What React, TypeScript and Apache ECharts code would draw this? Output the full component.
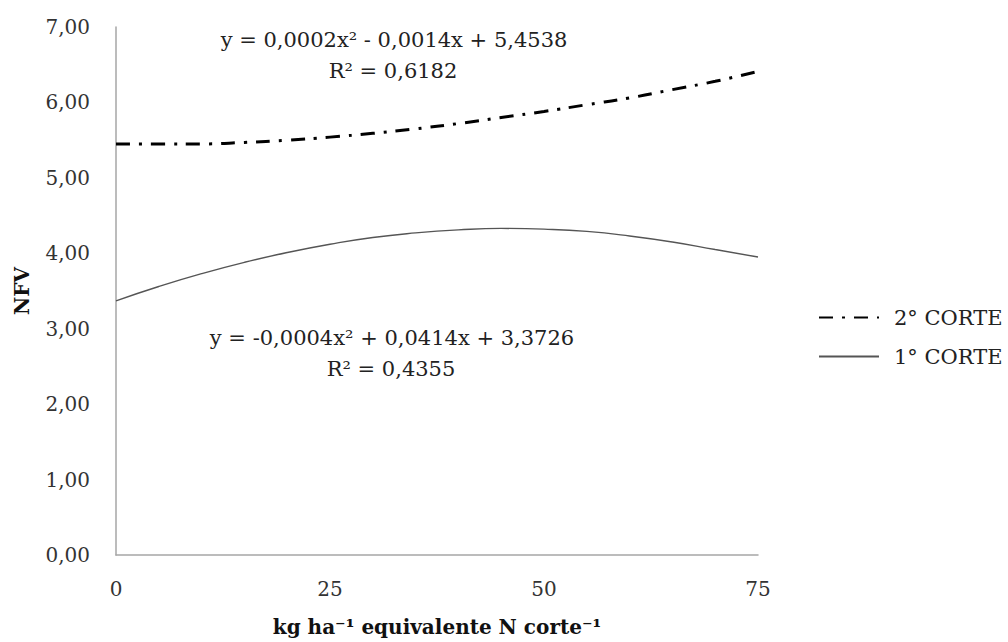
import React, { useEffect, useRef } from "react";
import * as echarts from "echarts";

const doses = [0, 5, 10, 15, 20, 25, 30, 35, 40, 45, 50, 55, 60, 65, 70, 75];
const corte2 = [5.45, 5.45, 5.45, 5.47, 5.5, 5.54, 5.59, 5.65, 5.72, 5.8, 5.88, 5.97, 6.06, 6.17, 6.28, 6.41];
const corte1 = [3.37, 3.56, 3.73, 3.88, 4.01, 4.12, 4.21, 4.27, 4.31, 4.33, 4.32, 4.29, 4.23, 4.15, 4.05, 3.95];
const seriesNames = ["2° CORTE", "1° CORTE"];
const eq2 = ["y = 0,0002x² - 0,0014x + 5,4538", "R² = 0,6182"];
const eq1 = ["y = -0,0004x² + 0,0414x + 3,3726", "R² = 0,4355"];
const xTitle = "kg ha⁻¹ equivalente N corte⁻¹";
const yTitle = "NFV";

const FONT = "DejaVu Serif";

export default function App() {
  const ref = useRef<HTMLDivElement>(null);
  useEffect(() => {
    if (!ref.current) return;
    const chart = echarts.init(ref.current, null, { renderer: "svg" });
    const textStyle = { fontFamily: FONT, fontSize: 21, fill: "#222" };
    chart.setOption({
      animation: false,
      backgroundColor: "#fff",
      textStyle: { fontFamily: FONT },
      grid: { left: 116, right: 250, top: 27, bottom: 84 },
      legend: {
        orient: "vertical",
        left: 813,
        top: 302,
        itemWidth: 60,
        itemHeight: 14,
        itemGap: 18,
        itemStyle: { opacity: 0 },
        textStyle: { fontFamily: FONT, fontSize: 21, color: "#222", padding: [0, 0, 0, 10] },
        data: seriesNames,
      },
      xAxis: {
        type: "value",
        min: 0,
        max: 75,
        interval: 25,
        name: xTitle,
        nameLocation: "middle",
        nameGap: 62,
        nameTextStyle: { fontFamily: FONT, fontSize: 20, fontWeight: "bold", color: "#111" },
        axisLine: { show: true, lineStyle: { color: "#a6a6a6", width: 1.5 } },
        axisTick: { show: false },
        splitLine: { show: false },
        axisLabel: { fontFamily: FONT, fontSize: 20, color: "#333", margin: 24 },
      },
      yAxis: {
        type: "value",
        min: 0,
        max: 7,
        interval: 1,
        name: yTitle,
        nameLocation: "middle",
        nameGap: 84,
        nameTextStyle: { fontFamily: FONT, fontSize: 20, fontWeight: "bold", color: "#111" },
        axisLine: { show: true, lineStyle: { color: "#a6a6a6", width: 1.5 } },
        axisTick: { show: false },
        splitLine: { show: false },
        axisLabel: {
          fontFamily: FONT,
          fontSize: 20,
          color: "#333",
          margin: 26,
          formatter: (v: number) => v.toFixed(2).replace(".", ","),
        },
      },
      series: [
        {
          name: seriesNames[0],
          type: "line",
          smooth: true,
          symbol: "none",
          data: doses.map((d, i) => [d, corte2[i]]),
          lineStyle: { color: "#000", width: 3, type: [14, 9, 3, 9] },
          itemStyle: { color: "#000" },
        },
        {
          name: seriesNames[1],
          type: "line",
          smooth: true,
          symbol: "none",
          data: doses.map((d, i) => [d, corte1[i]]),
          lineStyle: { color: "#555", width: 1.4, type: "solid" },
          itemStyle: { color: "#555" },
        },
      ],
      graphic: [
        { type: "text", x: 394, y: 40, style: { ...textStyle, text: eq2[0], align: "center", verticalAlign: "middle" } },
        { type: "text", x: 393, y: 71, style: { ...textStyle, text: eq2[1], align: "center", verticalAlign: "middle" } },
        { type: "text", x: 392, y: 338, style: { ...textStyle, text: eq1[0], align: "center", verticalAlign: "middle" } },
        { type: "text", x: 391, y: 369, style: { ...textStyle, text: eq1[1], align: "center", verticalAlign: "middle" } },
      ],
    });
    return () => chart.dispose();
  }, []);
  return <div ref={ref} style={{ position: "fixed", left: 0, top: 0, width: 1008, height: 642 }} />;
}
